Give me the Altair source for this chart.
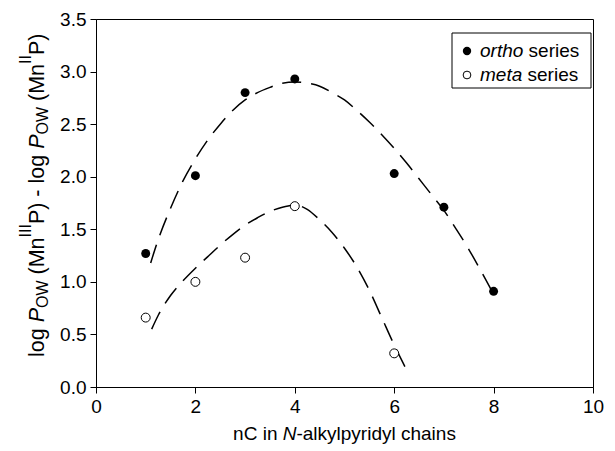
import altair as alt
import pandas as pd

# ---------------- data ----------------
ortho_nc = [1, 2, 3, 4, 6, 7, 8]
ortho_logp = [1.27, 2.01, 2.80, 2.93, 2.03, 1.71, 0.91]
meta_nc = [1, 2, 3, 4, 6]
meta_logp = [0.66, 1.00, 1.23, 1.72, 0.32]

ortho_fit_nc = [1.1, 1.25, 1.5, 1.75, 2.0, 2.25, 2.5, 2.75, 3.0, 3.25, 3.5, 3.75, 4.0, 4.25,
                4.5, 4.75, 5.0, 5.25, 5.5, 5.75, 6.0, 6.25, 6.5, 6.75, 7.0, 7.25, 7.5, 7.75, 8.05]
ortho_fit_logp = [1.18, 1.40, 1.70, 1.96, 2.17, 2.35, 2.50, 2.63, 2.73, 2.80, 2.85, 2.89, 2.90, 2.89,
                  2.86, 2.80, 2.73, 2.63, 2.52, 2.40, 2.27, 2.13, 1.98, 1.83, 1.68, 1.50, 1.31, 1.10, 0.84]
meta_fit_nc = [1.12, 1.25, 1.5, 1.75, 2.0, 2.25, 2.5, 2.75, 3.0, 3.25, 3.5, 3.75, 4.0, 4.25,
               4.5, 4.75, 5.0, 5.25, 5.5, 5.75, 6.0, 6.22]
meta_fit_logp = [0.55, 0.68, 0.87, 1.01, 1.13, 1.24, 1.35, 1.45, 1.54, 1.61, 1.67, 1.71, 1.73, 1.69,
                 1.59, 1.47, 1.32, 1.14, 0.92, 0.66, 0.40, 0.19]

x_ticks = [0, 2, 4, 6, 8, 10]
y_ticks = [0.0, 0.5, 1.0, 1.5, 2.0, 2.5, 3.0, 3.5]

FONT = "Liberation Sans"
W, H = 497, 368

# approximate Arial/Liberation Sans advance widths (em)
CW = {'l': .222, 'o': .556, 'g': .556, ' ': .278, 'P': .667, 'O': .778, 'W': .944, '(': .333,
      ')': .333, 'M': .833, 'n': .556, 'I': .278, '-': .333, 'C': .722, 'i': .222, 'N': .722,
      'a': .556, 'k': .5, 'y': .5, 'p': .556, 'r': .333, 'd': .556, 'c': .5, 'h': .556,
      's': .5, 'e': .556, 't': .278, 'm': .833}


def tw(s, fs):
    return sum(CW.get(c, 0.556) for c in s) * fs


def lead(s):
    return s[:len(s) - len(s.lstrip(' '))]


# ---------------- main data layers ----------------
pts_o = pd.DataFrame({"nc": ortho_nc, "logp": ortho_logp})
pts_m = pd.DataFrame({"nc": meta_nc, "logp": meta_logp})
fit = pd.concat([
    pd.DataFrame({"nc": ortho_fit_nc, "logp": ortho_fit_logp, "series": "ortho"}),
    pd.DataFrame({"nc": meta_fit_nc, "logp": meta_fit_logp, "series": "meta"}),
])

X = alt.X("nc:Q", scale=alt.Scale(domain=[0, 10], nice=False, zero=False),
          axis=alt.Axis(values=x_ticks, title=None, format="d", labelFlush=False))
Y = alt.Y("logp:Q", scale=alt.Scale(domain=[0, 3.5], nice=False),
          axis=alt.Axis(values=y_ticks, title=None, format=".1f", labelFlush=False))

curves = alt.Chart(fit).mark_line(
    color="black", strokeWidth=1.5, strokeDash=[19, 10], interpolate="monotone"
).encode(x=X, y=Y, detail="series:N")

p_o = alt.Chart(pts_o).mark_point(
    shape="circle", filled=True, color="black", size=80, opacity=1
).encode(x=X, y=Y)
p_m = alt.Chart(pts_m).mark_point(
    shape="circle", filled=True, fill="white", stroke="black", strokeWidth=1, size=80, opacity=1
).encode(x=X, y=Y)

# ---------------- text pieces (rich titles) ----------------
PX = alt.X("px:Q", scale=None, axis=None)
PY = alt.Y("py:Q", scale=None, axis=None)

# y-axis title, rotated, reading bottom -> top
FS_Y, FS_S = 21.5, 16
y_base_x = -52
y_start = 338
ytitle = [("log ", "reg"), ("P", "ital"), ("OW", "sub"), (" (Mn", "reg"), ("III", "sup"),
          ("P) - log ", "reg"), ("P", "ital"), ("OW", "sub"), (" (Mn", "reg"), ("II", "sup"),
          ("P)", "reg")]
rows_y = []
cum = 0.0
for txt, st in ytitle:
    fs = FS_S if st in ("sub", "sup") else FS_Y
    shift = 4 if st == "sub" else (-13 if st == "sup" else 0)
    off = tw(lead(txt), fs)
    rows_y.append({"text": txt.strip(), "st": st, "px": y_base_x + shift, "py": y_start - cum - off})
    cum += tw(txt, fs)
ydf = pd.DataFrame(rows_y)


def ytext(st, fs, style="normal"):
    return alt.Chart(ydf[ydf.st.isin(st)]).mark_text(
        angle=270, align="left", baseline="alphabetic", font=FONT, fontSize=fs,
        fontStyle=style, color="black"
    ).encode(x=PX, y=PY, text="text:N")


# x-axis title
FS_X = 19
xtitle = [("nC in ", "reg"), ("N", "ital"), ("-alkylpyridyl chains", "reg")]
total = sum(tw(t, FS_X) for t, _ in xtitle)
rows_x = []
cum = W / 2 - total / 2
for txt, st in xtitle:
    rows_x.append({"text": txt.strip(), "st": st, "px": cum + tw(lead(txt), FS_X), "py": 421})
    cum += tw(txt, FS_X)
xdf = pd.DataFrame(rows_x)

# legend
FS_L = 19
leg_rows = []
for name, by in [("ortho", 38), ("meta", 62)]:
    leg_rows.append({"text": name, "st": "ital", "px": 384, "py": by})
    leg_rows.append({"text": "series", "st": "reg", "px": 384 + tw(name + " ", FS_L), "py": by})
ldf = pd.DataFrame(leg_rows)
lmark = pd.DataFrame({"px": [371, 371], "py": [32, 56], "kind": ["ortho", "meta"]})


def htext(df, st, fs, style="normal"):
    return alt.Chart(df[df.st == st]).mark_text(
        align="left", baseline="alphabetic", font=FONT, fontSize=fs,
        fontStyle=style, color="black"
    ).encode(x=PX, y=PY, text="text:N")


legend_box = alt.Chart(pd.DataFrame({"a": [0]})).mark_rect(
    fill="white", stroke="black", strokeWidth=1
).encode(x=alt.value(356), x2=alt.value(495), y=alt.value(14), y2=alt.value(69))

lm_o = alt.Chart(lmark[lmark.kind == "ortho"]).mark_point(
    shape="circle", filled=True, color="black", size=70, opacity=1).encode(x=PX, y=PY)
lm_m = alt.Chart(lmark[lmark.kind == "meta"]).mark_point(
    shape="circle", filled=True, fill="white", stroke="black", strokeWidth=1, size=60,
    opacity=1).encode(x=PX, y=PY)

chart = alt.layer(
    curves, p_o, p_m,
    legend_box, lm_o, lm_m,
    htext(ldf, "ital", FS_L, "italic"), htext(ldf, "reg", FS_L),
    htext(xdf, "reg", FS_X), htext(xdf, "ital", FS_X, "italic"),
    ytext(["reg"], FS_Y), ytext(["ital"], FS_Y, "italic"), ytext(["sub", "sup"], FS_S),
).properties(
    width=W, height=H,
    autosize=alt.AutoSizeParams(type="none"),
    padding={"left": 88, "top": 11, "right": 12, "bottom": 58},
    background="white",
).configure_view(
    stroke="black", strokeWidth=1
).configure_axis(
    grid=False, domainColor="black", domainWidth=1, tickColor="black", tickWidth=1,
    tickSize=6, labelColor="black", labelFont=FONT, labelFontSize=19, labelPadding=4,
)

chart.save("out.html", embed_options={"renderer": "svg", "actions": False})
